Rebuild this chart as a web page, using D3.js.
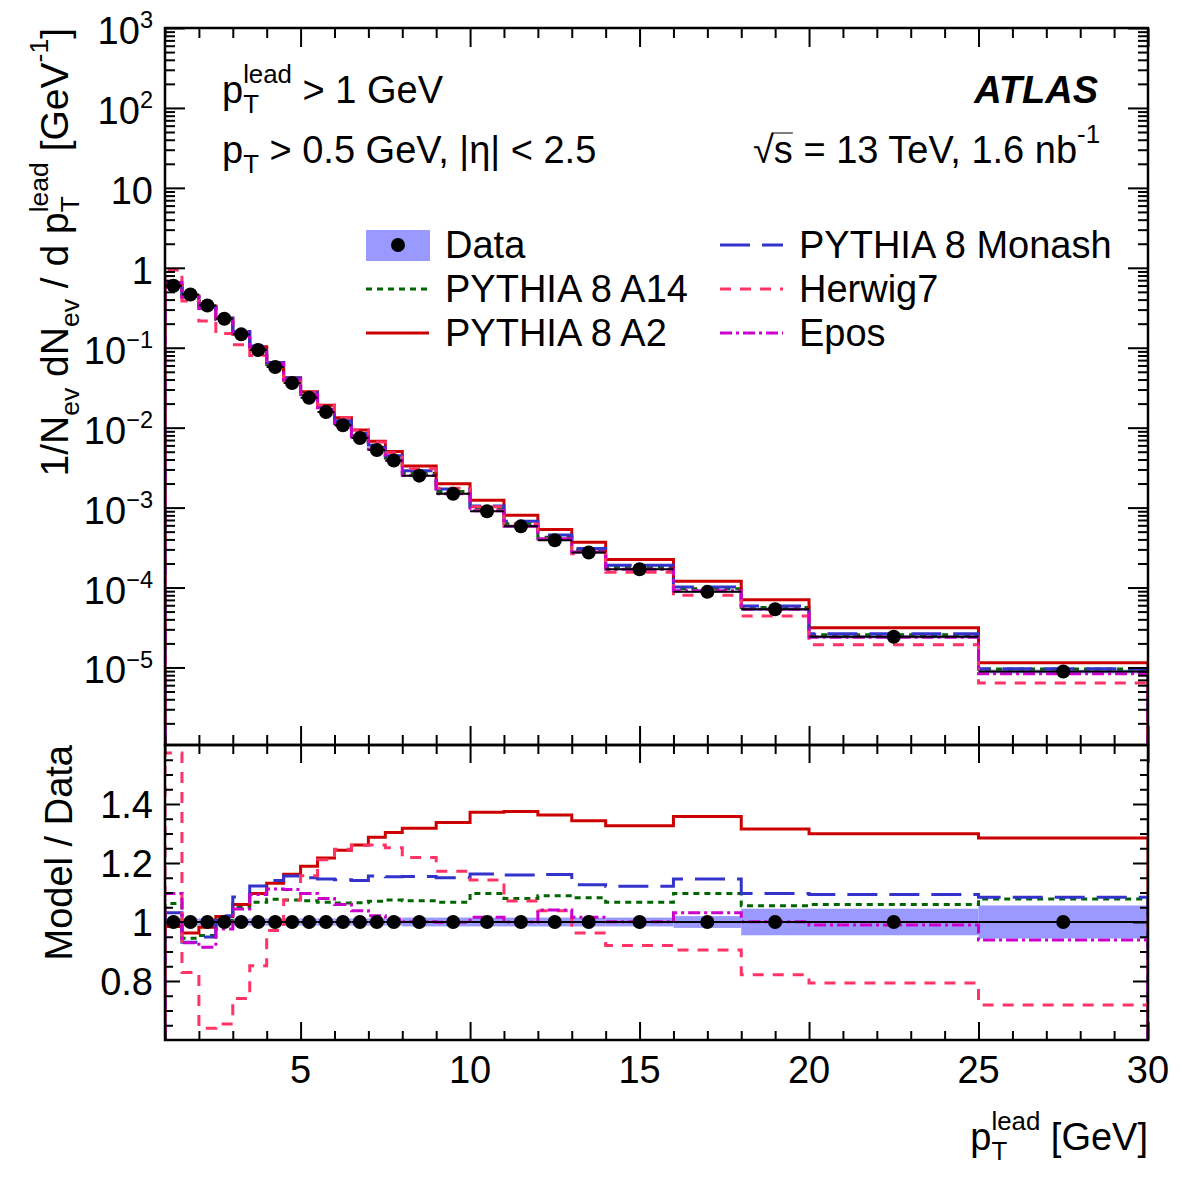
<!DOCTYPE html>
<html>
<head>
<meta charset="utf-8">
<script src="https://cdn.jsdelivr.net/npm/d3@7"></script>
<style>
  body { margin: 0; background: #fff; }
  svg text { font-family: "Liberation Sans", Arial, Helvetica, sans-serif; fill: #000; }
</style>
</head>
<body>
<svg id="chart" width="1182" height="1182"></svg>
<script>
// DATA
// bin edges in pT lead [GeV]
const binEdges = [1, 1.5, 2, 2.5, 3, 3.5, 4, 4.5, 5, 5.5, 6, 6.5, 7, 7.5, 8, 9, 10, 11, 12, 13, 14, 16, 18, 20, 25, 30];

// measured distribution 1/Nev dNev/dpT
const dataValues = [0.596, 0.464, 0.338, 0.230, 0.147, 0.0936, 0.0574, 0.0362, 0.0237, 0.0157,
    0.0107, 0.00743, 0.00526, 0.00387, 0.00251, 0.00149, 0.000899, 0.000583, 0.000390, 0.000274,
    0.000169, 8.83e-5, 5.35e-5, 2.42e-5, 8.9e-6];
// relative uncertainty (band)
const dataRelErr = [0.012, 0.012, 0.012, 0.012, 0.012, 0.012, 0.012, 0.012, 0.012, 0.012,
    0.012, 0.012, 0.012, 0.012, 0.015, 0.015, 0.015, 0.015, 0.015, 0.015,
    0.015, 0.02, 0.045, 0.045, 0.056];

// model / data ratios
const ratioA14 = [1.063, 0.945, 0.954, 1.005, 1.050, 1.067, 1.077, 1.075, 1.072, 1.067,
    1.064, 1.065, 1.070, 1.075, 1.072, 1.067, 1.097, 1.080, 1.089, 1.082,
    1.067, 1.097, 1.055, 1.059, 1.078];
const ratioA2 = [0.985, 0.963, 0.982, 1.019, 1.059, 1.097, 1.131, 1.162, 1.189, 1.217,
    1.243, 1.261, 1.287, 1.303, 1.318, 1.337, 1.372, 1.375, 1.363, 1.343,
    1.326, 1.358, 1.315, 1.299, 1.285];
const ratioMonash = [1.031, 0.931, 0.949, 1.021, 1.085, 1.122, 1.141, 1.156, 1.150, 1.146,
    1.143, 1.141, 1.156, 1.153, 1.154, 1.150, 1.163, 1.159, 1.161, 1.126,
    1.121, 1.146, 1.097, 1.093, 1.084];
const ratioHerwig = [1.573, 0.829, 0.640, 0.654, 0.741, 0.852, 0.971, 1.075, 1.157, 1.211,
    1.247, 1.259, 1.261, 1.252, 1.219, 1.172, 1.142, 1.071, 1.038, 0.963,
    0.920, 0.905, 0.821, 0.793, 0.719];
const ratioEpos = [1.097, 0.930, 0.914, 0.976, 1.044, 1.093, 1.112, 1.110, 1.097, 1.080,
    1.059, 1.038, 1.021, 1.010, 1.001, 0.999, 1.016, 1.000, 1.041, 1.016,
    1.001, 1.031, 1.001, 0.990, 0.939];

const modelNames = ["PYTHIA 8 A14", "PYTHIA 8 A2", "PYTHIA 8 Monash", "Herwig7", "Epos"];
const modelRatios = [ratioA14, ratioA2, ratioMonash, ratioHerwig, ratioEpos];

// axis ticks
const xMajorTicks = [5, 10, 15, 20, 25, 30];
const yTopExponents = [3, 2, 1, 0, -1, -2, -3, -4, -5];
const yRatioTicks = [0.8, 1.0, 1.2, 1.4];
const yRatioTickLabels = ["0.8", "1", "1.2", "1.4"];

// STYLES
const modelColors = ["#006600", "#cc0000", "#3333cc", "#ff3366", "#cc00cc"];
const modelDash = ["6,5", null, "30,12", "11,9", "12,4,3,4"];
const bandColor = "#9999ff";

// LAYOUT
const frameL = 165, frameR = 1148;
const topY0 = 28, splitY = 745, ratioY1 = 1040;
const FS = 38;

const svg = d3.select("#chart");

const x = d3.scaleLinear().domain([1, 30]).range([frameL, frameR]);
const yTop = d3.scaleLog().domain([Math.pow(10, -5.97), 1000]).range([splitY, topY0]);
const yRat = d3.scaleLinear().domain([0.6, 1.6]).range([ratioY1, splitY]);

// text with sub/superscripts: parts = [{t, size, shift, dx}] (shift, dx in em of fs)
function richText(sel, px, py, parts, fs, anchor) {
    const t = sel.append("text")
        .attr("x", px).attr("y", py)
        .attr("font-size", fs)
        .attr("text-anchor", anchor || "start");
    let cur = 0;
    parts.forEach(p => {
        const shift = p.shift || 0;
        const ts = t.append("tspan")
            .text(p.t)
            .attr("font-size", fs * (p.size || 1))
            .attr("dy", -(shift - cur) * fs);
        if (p.dx) ts.attr("dx", p.dx * fs);
        cur = shift;
    });
    return t;
}

const SS = 0.68;       // sub/sup size
const SUP = 0.52, SUB = -0.27;
// p_T^lead stacked (T width is 0.611 em)
const pTlead = [
    {t: "p"},
    {t: "T", size: SS, shift: SUB},
    {t: "lead", size: SS, shift: SUP, dx: -0.611 * SS}
];

// clip paths
const defs = svg.append("defs");
defs.append("clipPath").attr("id", "clipTop")
    .append("rect").attr("x", frameL).attr("y", topY0)
    .attr("width", frameR - frameL).attr("height", splitY - topY0);
defs.append("clipPath").attr("id", "clipRat")
    .append("rect").attr("x", frameL).attr("y", splitY)
    .attr("width", frameR - frameL).attr("height", ratioY1 - splitY);

const bins = dataValues.map((v, i) => ({lo: binEdges[i], hi: binEdges[i + 1], v: v, e: dataRelErr[i]}));

function stepPoints(vals, floor) {
    const n = binEdges.length - 1;
    const pts = [[binEdges[0], floor]];
    vals.forEach((v, i) => pts.push([binEdges[i], v]));
    pts.push([binEdges[n], vals[vals.length - 1]]);
    pts.push([binEdges[n], floor]);
    return pts;
}

// ---------- TOP PANEL ----------
const gTop = svg.append("g").attr("clip-path", "url(#clipTop)");

gTop.append("g").selectAll("rect")
    .data(bins)
    .join("rect")
        .attr("x", d => x(d.lo))
        .attr("width", d => x(d.hi) - x(d.lo))
        .attr("y", d => yTop(d.v * (1 + d.e)))
        .attr("height", d => yTop(d.v * (1 - d.e)) - yTop(d.v * (1 + d.e)))
        .attr("fill", bandColor);

const lineTop = d3.line()
    .x(d => x(d[0]))
    .y(d => yTop(d[1]))
    .curve(d3.curveStepAfter);

modelRatios.forEach((r, m) => {
    const vals = r.map((q, i) => q * dataValues[i]);
    gTop.append("path")
        .attr("d", lineTop(stepPoints(vals, 1e-7)))
        .attr("fill", "none")
        .attr("stroke", modelColors[m])
        .attr("stroke-width", 3)
        .attr("stroke-dasharray", modelDash[m]);
});

gTop.append("g").selectAll("line")
    .data(bins)
    .join("line")
        .attr("x1", d => x(d.lo))
        .attr("x2", d => x(d.hi))
        .attr("y1", d => yTop(d.v))
        .attr("y2", d => yTop(d.v))
        .attr("stroke", "#000")
        .attr("stroke-width", 2);

gTop.append("g").selectAll("circle")
    .data(bins)
    .join("circle")
        .attr("cx", d => x((d.lo + d.hi) / 2))
        .attr("cy", d => yTop(d.v))
        .attr("r", 7)
        .attr("fill", "#000");

// ---------- RATIO PANEL ----------
const gRat = svg.append("g").attr("clip-path", "url(#clipRat)");

gRat.append("g").selectAll("rect")
    .data(bins)
    .join("rect")
        .attr("x", d => x(d.lo))
        .attr("width", d => x(d.hi) - x(d.lo))
        .attr("y", d => yRat(1 + d.e))
        .attr("height", d => yRat(1 - d.e) - yRat(1 + d.e))
        .attr("fill", bandColor);

const lineRat = d3.line()
    .x(d => x(d[0]))
    .y(d => yRat(d[1]))
    .curve(d3.curveStepAfter);

modelRatios.forEach((r, m) => {
    gRat.append("path")
        .attr("d", lineRat(stepPoints(r, 0)))
        .attr("fill", "none")
        .attr("stroke", modelColors[m])
        .attr("stroke-width", 3)
        .attr("stroke-dasharray", modelDash[m]);
});

gRat.append("g").selectAll("line")
    .data(bins)
    .join("line")
        .attr("x1", d => x(d.lo))
        .attr("x2", d => x(d.hi))
        .attr("y1", yRat(1))
        .attr("y2", yRat(1))
        .attr("stroke", "#000")
        .attr("stroke-width", 2);

gRat.append("g").selectAll("circle")
    .data(bins)
    .join("circle")
        .attr("cx", d => x((d.lo + d.hi) / 2))
        .attr("cy", yRat(1))
        .attr("r", 7)
        .attr("fill", "#000");

// ---------- AXES ----------
function ticks(axisFn, scale, values, size, transform) {
    svg.append("g")
        .attr("transform", transform)
        .call(axisFn(scale).tickValues(values).tickSizeInner(-size).tickSizeOuter(0).tickFormat(""))
        .call(a => a.select(".domain").remove())
        .selectAll("line")
            .attr("stroke", "#000")
            .attr("stroke-width", 2);
}

const xMinorTicks = d3.range(1, 31).filter(v => !xMajorTicks.includes(v));
const yTopMajor = yTopExponents.map(e => Math.pow(10, e));
const yTopMinor = [];
for (let e = -6; e < 3; e++) {
    for (let m = 2; m <= 9; m++) {
        const v = m * Math.pow(10, e);
        if (v >= yTop.domain()[0] && v <= 1000) yTopMinor.push(v);
    }
}
const yRatMinor = d3.range(13, 32).map(k => k * 0.05).filter(v => !yRatioTicks.some(t => Math.abs(t - v) < 1e-6));

// top panel
ticks(d3.axisTop, x, xMajorTicks, 19, `translate(0,${topY0})`);
ticks(d3.axisTop, x, xMinorTicks, 10, `translate(0,${topY0})`);
ticks(d3.axisBottom, x, xMajorTicks, 19, `translate(0,${splitY})`);
ticks(d3.axisBottom, x, xMinorTicks, 10, `translate(0,${splitY})`);
ticks(d3.axisLeft, yTop, yTopMajor, 20, `translate(${frameL},0)`);
ticks(d3.axisLeft, yTop, yTopMinor, 10, `translate(${frameL},0)`);
ticks(d3.axisRight, yTop, yTopMajor, 20, `translate(${frameR},0)`);
ticks(d3.axisRight, yTop, yTopMinor, 10, `translate(${frameR},0)`);

// ratio panel
ticks(d3.axisTop, x, xMajorTicks, 18, `translate(0,${splitY})`);
ticks(d3.axisTop, x, xMinorTicks, 9, `translate(0,${splitY})`);
ticks(d3.axisBottom, x, xMajorTicks, 18, `translate(0,${ratioY1})`);
ticks(d3.axisBottom, x, xMinorTicks, 9, `translate(0,${ratioY1})`);
ticks(d3.axisLeft, yRat, yRatioTicks, 15, `translate(${frameL},0)`);
ticks(d3.axisLeft, yRat, yRatMinor, 8, `translate(${frameL},0)`);
ticks(d3.axisRight, yRat, yRatioTicks, 15, `translate(${frameR},0)`);
ticks(d3.axisRight, yRat, yRatMinor, 8, `translate(${frameR},0)`);

// frames
[[topY0, splitY], [splitY, ratioY1]].forEach(([a, b]) => {
    svg.append("rect")
        .attr("x", frameL).attr("y", a)
        .attr("width", frameR - frameL).attr("height", b - a)
        .attr("fill", "none").attr("stroke", "#000").attr("stroke-width", 2.5);
});

// tick labels
const gLab = svg.append("g");
yTopExponents.forEach(e => {
    const yy = yTop(Math.pow(10, e)) + 16;
    let parts;
    if (e === 0) parts = [{t: "1"}];
    else if (e === 1) parts = [{t: "10"}];
    else parts = [{t: "10"}, {t: (e < 0 ? "\u2212" : "") + Math.abs(e), size: 0.62, shift: 0.42}];
    richText(gLab, 153, yy, parts, FS, "end");
});
yRatioTicks.forEach((v, i) => {
    gLab.append("text")
        .attr("x", 153).attr("y", yRat(v) + 14)
        .attr("font-size", FS).attr("text-anchor", "end")
        .text(yRatioTickLabels[i]);
});
xMajorTicks.forEach(v => {
    gLab.append("text")
        .attr("x", x(v)).attr("y", ratioY1 + 43)
        .attr("font-size", FS).attr("text-anchor", "middle")
        .text(v);
});

// axis titles
richText(svg, frameR, 1150, pTlead.concat([{t: " [GeV]", shift: 0}]), FS, "end");

const gYT = svg.append("g").attr("transform", `translate(68,${topY0}) rotate(-90)`);
richText(gYT, 0, 0, [
    {t: "1/N"},
    {t: "ev", size: SS, shift: SUB},
    {t: " dN", shift: 0},
    {t: "ev", size: SS, shift: SUB},
    {t: " / d ", shift: 0}
].concat(pTlead).concat([
    {t: " [GeV", shift: 0},
    {t: "-1", size: SS, shift: SUP},
    {t: "]", shift: 0}
]), 39, "end");

const gYR = svg.append("g").attr("transform", `translate(72,${splitY}) rotate(-90)`);
gYR.append("text").attr("font-size", FS).attr("text-anchor", "end").text("Model / Data");

// labels inside plot
richText(svg, 222, 103, pTlead.concat([{t: " > 1 GeV", shift: 0}]), FS, "start");
richText(svg, 222, 163, [
    {t: "p"},
    {t: "T", size: SS, shift: SUB},
    {t: " > 0.5 GeV, |\u03b7| < 2.5", shift: 0}
], FS, "start");

svg.append("text")
    .attr("x", 1098).attr("y", 103)
    .attr("font-size", FS).attr("font-weight", "bold").attr("font-style", "italic")
    .attr("text-anchor", "end")
    .text("ATLAS");

const sqrtText = richText(svg, 1100, 163, [
    {t: "\u221as = 13 TeV, 1.6 nb"},
    {t: "-1", size: SS, shift: SUP}
], FS, "end");
const sBox = sqrtText.node().getExtentOfChar(1);
svg.append("line")
    .attr("x1", sBox.x - 2).attr("x2", sBox.x + sBox.width)
    .attr("y1", 163 - 30).attr("y2", 163 - 30)
    .attr("stroke", "#000").attr("stroke-width", 1);

// ---------- LEGEND ----------
const legCols = [366, 720];
const legRows = [245, 289, 333];
const legSlots = [[0, 1], [0, 2], [1, 0], [1, 1], [1, 2]]; // [col,row] for each model
const gLeg = svg.append("g");

gLeg.append("rect")
    .attr("x", legCols[0]).attr("y", legRows[0] - 15)
    .attr("width", 64).attr("height", 31)
    .attr("fill", bandColor);
gLeg.append("circle")
    .attr("cx", legCols[0] + 32).attr("cy", legRows[0])
    .attr("r", 7).attr("fill", "#000");
gLeg.append("text")
    .attr("x", legCols[0] + 79).attr("y", legRows[0] + 13)
    .attr("font-size", FS).text("Data");

modelNames.forEach((name, m) => {
    const [c, r] = legSlots[m];
    const lx = legCols[c], ly = legRows[r];
    gLeg.append("line")
        .attr("x1", lx).attr("x2", lx + 63)
        .attr("y1", ly).attr("y2", ly)
        .attr("stroke", modelColors[m])
        .attr("stroke-width", 3)
        .attr("stroke-dasharray", modelDash[m]);
    gLeg.append("text")
        .attr("x", lx + 79).attr("y", ly + 13)
        .attr("font-size", FS).text(name);
});
</script>
</body>
</html>
